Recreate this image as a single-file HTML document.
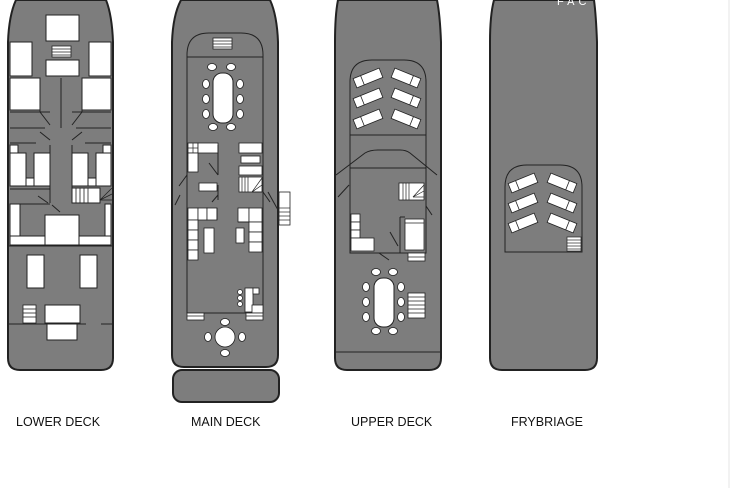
<!DOCTYPE html>
<html><head><meta charset="utf-8"><style>
html,body{margin:0;padding:0;background:#fff;width:733px;height:488px;overflow:hidden}
svg{display:block}
text{font-family:"Liberation Sans",sans-serif}
</style></head><body>
<svg width="733" height="488" viewBox="0 0 733 488" xmlns="http://www.w3.org/2000/svg">
<defs>
<g id="chairV"><ellipse rx="3.5" ry="4.5" fill="#fff" stroke="#222" stroke-width="0.8"/></g>
<g id="chairH"><ellipse rx="4.5" ry="3.5" fill="#fff" stroke="#222" stroke-width="0.8"/></g>
<g id="lounger"><rect x="-14" y="-5" width="28" height="10" fill="#fff" stroke="#222" stroke-width="0.8"/><line x1="-6" y1="-5" x2="-6" y2="5" stroke="#222" stroke-width="0.8"/></g>
</defs>
<line x1="729" y1="0" x2="729" y2="488" stroke="#e6e6e6" stroke-width="1"/>
<g fill="#7d7d7d" stroke="#222" stroke-width="2">
<path d="M16,0 Q9,15 8,42 L8,358 Q8,370 20,370 L101,370 Q113,370 113,358 L113,42 Q112,15 106,0 Z"/>
<path d="M181,0 Q173,15 172,42 L172,355 Q172,367 184,367 L266,367 Q278,367 278,355 L278,42 Q277,15 270,0 Z"/>
<rect x="173" y="370" width="106" height="32" rx="9"/>
<path d="M338,0 Q335,15 335,42 L335,358 Q335,370 347,370 L429,370 Q441,370 441,358 L441,42 Q440,15 437,0 Z"/>
<path d="M494,0 Q490,15 490,42 L490,358 Q490,370 502,370 L585,370 Q597,370 597,358 L597,42 Q596,15 594,0 Z"/>
</g>
<text x="557" y="5" fill="#fff" font-size="11" letter-spacing="4">FAC</text>
<!-- LOWER DECK -->
<g fill="#fff" stroke="#222" stroke-width="1">
<rect x="46" y="15" width="33" height="26"/>
<rect x="10" y="42" width="22" height="34"/><rect x="89" y="42" width="22" height="34"/>
<rect x="46" y="60" width="33" height="16"/>
<rect x="10" y="78" width="30" height="32"/><rect x="82" y="78" width="29" height="32"/>
<rect x="10" y="145" width="8" height="8"/><rect x="103" y="145" width="8" height="8"/>
<rect x="10" y="153" width="16" height="33"/><rect x="34" y="153" width="16" height="33"/>
<rect x="72" y="153" width="16" height="33"/><rect x="96" y="153" width="15" height="33"/>
<rect x="26" y="178" width="8" height="8"/><rect x="88" y="178" width="8" height="8"/>
<rect x="10" y="204" width="10" height="41"/><rect x="105" y="204" width="6" height="41"/>
<rect x="10" y="236" width="101" height="9"/>
<rect x="45" y="215" width="34" height="30"/>
<rect x="27" y="255" width="17" height="33"/><rect x="80" y="255" width="17" height="33"/>
<rect x="45" y="305" width="35" height="18"/><rect x="47" y="323" width="30" height="17"/>
<rect x="72" y="188" width="28" height="15"/>
</g>
<g stroke="#222" stroke-width="1" fill="none">
<line x1="61" y1="78" x2="61" y2="128"/><line x1="40" y1="78" x2="40" y2="112"/><line x1="82" y1="78" x2="82" y2="112"/>
<line x1="10" y1="112" x2="50" y2="112"/><line x1="72" y1="112" x2="111" y2="112"/>
<line x1="10" y1="128" x2="45" y2="128"/><line x1="76" y1="128" x2="111" y2="128"/>
<line x1="40" y1="112" x2="50" y2="125"/><line x1="82" y1="112" x2="72" y2="125"/>
<line x1="40" y1="132" x2="50" y2="140"/><line x1="82" y1="132" x2="72" y2="140"/>
<line x1="10" y1="143" x2="36" y2="143"/><line x1="85" y1="143" x2="111" y2="143"/>
<line x1="50" y1="145" x2="50" y2="203"/><line x1="72" y1="145" x2="72" y2="203"/>
<line x1="10" y1="189" x2="50" y2="189"/>
<line x1="20" y1="204" x2="50" y2="204"/><line x1="20" y1="204" x2="20" y2="236"/>
<line x1="105" y1="204" x2="105" y2="236"/>
<line x1="38" y1="196" x2="48" y2="203"/><line x1="52" y1="205" x2="60" y2="212"/>
<line x1="8" y1="324" x2="86" y2="324"/><line x1="101" y1="324" x2="113" y2="324"/>
<line x1="8" y1="246" x2="113" y2="246"/>
</g>
<g stroke="#222" stroke-width="0.8" fill="#fff">
<rect x="52" y="46" width="19" height="11"/>
<line x1="52" y1="49" x2="71" y2="49"/><line x1="52" y1="52" x2="71" y2="52"/><line x1="52" y1="55" x2="71" y2="55"/>
<rect x="23" y="305" width="13" height="18"/>
<line x1="23" y1="309" x2="36" y2="309"/><line x1="23" y1="313" x2="36" y2="313"/><line x1="23" y1="317" x2="36" y2="317"/>
<line x1="76" y1="188" x2="76" y2="203"/><line x1="80" y1="188" x2="80" y2="203"/><line x1="84" y1="188" x2="84" y2="203"/><line x1="88" y1="188" x2="88" y2="203"/>
<line x1="100" y1="200" x2="112" y2="188"/><line x1="100" y1="200" x2="112" y2="194"/><line x1="100" y1="200" x2="112" y2="200"/>
</g>
<!-- MAIN DECK -->
<path d="M187,313 L187,55 Q187,33 209,33 L241,33 Q263,33 263,55 L263,313 Z" fill="none" stroke="#222" stroke-width="1"/>
<line x1="187" y1="57" x2="263" y2="57" stroke="#222" stroke-width="1"/>
<g stroke="#222" stroke-width="0.8" fill="#fff">
<rect x="213" y="38" width="19" height="11"/>
<line x1="213" y1="41" x2="232" y2="41"/><line x1="213" y1="44" x2="232" y2="44"/><line x1="213" y1="47" x2="232" y2="47"/>
<rect x="213" y="73" width="20" height="50" rx="9" stroke-width="1"/>
</g>
<use href="#chairH" x="212" y="67"/><use href="#chairH" x="231" y="67"/>
<use href="#chairH" x="213" y="127"/><use href="#chairH" x="231" y="127"/>
<use href="#chairV" x="206" y="84"/><use href="#chairV" x="206" y="99"/><use href="#chairV" x="206" y="114"/>
<use href="#chairV" x="240" y="84"/><use href="#chairV" x="240" y="99"/><use href="#chairV" x="240" y="114"/>
<g stroke="#222" stroke-width="0.8" fill="#fff">
<rect x="188" y="143" width="10" height="10"/><rect x="198" y="143" width="20" height="10"/>
<rect x="188" y="153" width="10" height="19"/>
<rect x="199" y="183" width="18" height="8"/>
<rect x="239" y="143" width="23" height="10"/><rect x="241" y="156" width="19" height="7"/>
<rect x="239" y="166" width="23" height="9"/><rect x="239" y="177" width="23" height="15"/>
<rect x="188" y="208" width="10" height="12"/><rect x="198" y="208" width="9" height="12"/><rect x="207" y="208" width="10" height="12"/>
<rect x="188" y="220" width="10" height="10"/><rect x="188" y="230" width="10" height="10"/><rect x="188" y="240" width="10" height="10"/><rect x="188" y="250" width="10" height="10"/>
<rect x="204" y="228" width="10" height="25"/>
<rect x="238" y="208" width="11" height="14"/><rect x="249" y="208" width="13" height="14"/>
<rect x="236" y="228" width="8" height="15"/>
<rect x="249" y="222" width="13" height="10"/><rect x="249" y="232" width="13" height="10"/><rect x="249" y="242" width="13" height="10"/>
<rect x="245" y="288" width="8" height="24"/><rect x="253" y="288" width="6" height="6"/>
<rect x="252" y="305" width="11" height="8"/>
<rect x="279" y="192" width="11" height="33"/>
<rect x="187" y="313" width="17" height="7"/><rect x="246" y="313" width="17" height="7"/>
</g>
<g stroke="#222" stroke-width="0.7">
<line x1="279" y1="208" x2="290" y2="208"/><line x1="279" y1="212" x2="290" y2="212"/><line x1="279" y1="216" x2="290" y2="216"/><line x1="279" y1="220" x2="290" y2="220"/>
<line x1="187" y1="316" x2="204" y2="316"/><line x1="246" y1="316" x2="263" y2="316"/>
<line x1="242" y1="177" x2="242" y2="192"/><line x1="245" y1="177" x2="245" y2="192"/><line x1="248" y1="177" x2="248" y2="192"/>
<line x1="252" y1="192" x2="262" y2="178"/><line x1="252" y1="192" x2="262" y2="185"/><line x1="252" y1="192" x2="262" y2="192"/>
<line x1="188" y1="148" x2="198" y2="148"/><line x1="193" y1="143" x2="193" y2="153"/>
</g>
<g stroke="#222" stroke-width="1" fill="none">
<line x1="218" y1="145" x2="218" y2="175"/><line x1="209" y1="163" x2="218" y2="175"/>
<line x1="218" y1="185" x2="218" y2="200"/><line x1="212" y1="202" x2="218" y2="195"/>
<line x1="187" y1="175" x2="179" y2="186"/><line x1="180" y1="195" x2="175" y2="205"/>
<line x1="217" y1="208" x2="217" y2="220"/><line x1="238" y1="222" x2="249" y2="222"/>
<line x1="263" y1="192" x2="270" y2="202"/><line x1="268" y1="192" x2="278" y2="210"/>
</g>
<circle cx="225" cy="337" r="10" fill="#fff" stroke="#222" stroke-width="0.8"/>
<use href="#chairH" x="225" y="322"/><use href="#chairH" x="225" y="353"/>
<use href="#chairV" x="208" y="337"/><use href="#chairV" x="242" y="337"/>
<g fill="#fff" stroke="#222" stroke-width="0.7"><circle cx="240" cy="292" r="2.5"/><circle cx="240" cy="298" r="2.5"/><circle cx="240" cy="304" r="2.5"/></g>
<!-- UPPER DECK -->
<path d="M350,135 L350,82 Q350,60 372,60 L404,60 Q426,60 426,82 L426,135 Z" fill="none" stroke="#222" stroke-width="1"/>
<use href="#lounger" transform="translate(368,78) rotate(-22)"/>
<use href="#lounger" transform="translate(368,98) rotate(-22)"/>
<use href="#lounger" transform="translate(368,119) rotate(-22)"/>
<use href="#lounger" transform="translate(406,78) rotate(22) scale(-1,1)"/>
<use href="#lounger" transform="translate(406,98) rotate(22) scale(-1,1)"/>
<use href="#lounger" transform="translate(406,119) rotate(22) scale(-1,1)"/>
<g stroke="#222" stroke-width="1" fill="none">
<line x1="350" y1="135" x2="350" y2="168"/><line x1="426" y1="135" x2="426" y2="168"/>
<path d="M336,175 L365,153 Q370,150 378,150 L400,150 Q406,150 410,153 L437,175"/>
<rect x="350" y="168" width="76" height="85"/>
<line x1="338" y1="197" x2="349" y2="185"/><line x1="426" y1="206" x2="432" y2="215"/>
<line x1="400" y1="217" x2="400" y2="253"/><line x1="400" y1="217" x2="405" y2="217"/>
<line x1="390" y1="232" x2="398" y2="246"/>
<line x1="379" y1="253" x2="389" y2="260"/>
<line x1="335" y1="352" x2="441" y2="352"/>
</g>
<g stroke="#222" stroke-width="0.8" fill="#fff">
<rect x="399" y="183" width="25" height="17"/>
<rect x="351" y="214" width="9" height="8"/><rect x="351" y="222" width="9" height="8"/><rect x="351" y="230" width="9" height="8"/>
<rect x="351" y="238" width="23" height="13"/>
<rect x="405" y="219" width="19" height="31"/><line x1="405" y1="223" x2="424" y2="223"/>
<rect x="408" y="253" width="17" height="8"/>
<rect x="374" y="278" width="20" height="49" rx="9" stroke-width="1"/>
<rect x="408" y="293" width="17" height="25"/>
</g>
<g stroke="#222" stroke-width="0.7">
<line x1="403" y1="183" x2="403" y2="200"/><line x1="406" y1="183" x2="406" y2="200"/><line x1="409" y1="183" x2="409" y2="200"/>
<line x1="413" y1="197" x2="424" y2="185"/><line x1="413" y1="197" x2="424" y2="191"/><line x1="413" y1="197" x2="424" y2="197"/>
<line x1="408" y1="257" x2="425" y2="257"/>
<line x1="408" y1="297" x2="425" y2="297"/><line x1="408" y1="301" x2="425" y2="301"/><line x1="408" y1="305" x2="425" y2="305"/><line x1="408" y1="309" x2="425" y2="309"/><line x1="408" y1="313" x2="425" y2="313"/>
</g>
<use href="#chairH" x="376" y="272"/><use href="#chairH" x="393" y="272"/>
<use href="#chairH" x="376" y="331"/><use href="#chairH" x="393" y="331"/>
<use href="#chairV" x="366" y="287"/><use href="#chairV" x="366" y="302"/><use href="#chairV" x="366" y="317"/>
<use href="#chairV" x="401" y="287"/><use href="#chairV" x="401" y="302"/><use href="#chairV" x="401" y="317"/>
<!-- FLYBRIDGE -->
<path d="M505,252 L505,187 Q505,165 527,165 L560,165 Q582,165 582,187 L582,252 Z" fill="none" stroke="#222" stroke-width="1"/>
<use href="#lounger" transform="translate(523,183) rotate(-22)"/>
<use href="#lounger" transform="translate(523,203) rotate(-22)"/>
<use href="#lounger" transform="translate(523,223) rotate(-22)"/>
<use href="#lounger" transform="translate(562,183) rotate(22) scale(-1,1)"/>
<use href="#lounger" transform="translate(562,203) rotate(22) scale(-1,1)"/>
<use href="#lounger" transform="translate(562,223) rotate(22) scale(-1,1)"/>
<g stroke="#222" stroke-width="0.7" fill="#fff">
<rect x="567" y="237" width="14" height="14"/>
<line x1="567" y1="240" x2="581" y2="240"/><line x1="567" y1="243" x2="581" y2="243"/><line x1="567" y1="246" x2="581" y2="246"/><line x1="567" y1="249" x2="581" y2="249"/>
</g>
<!-- labels -->
<g fill="#111" font-size="12.5">
<text x="16" y="426">LOWER DECK</text>
<text x="191" y="426">MAIN DECK</text>
<text x="351" y="426">UPPER DECK</text>
<text x="511" y="426">FRYBRIAGE</text>
</g>
</svg>
</body></html>
